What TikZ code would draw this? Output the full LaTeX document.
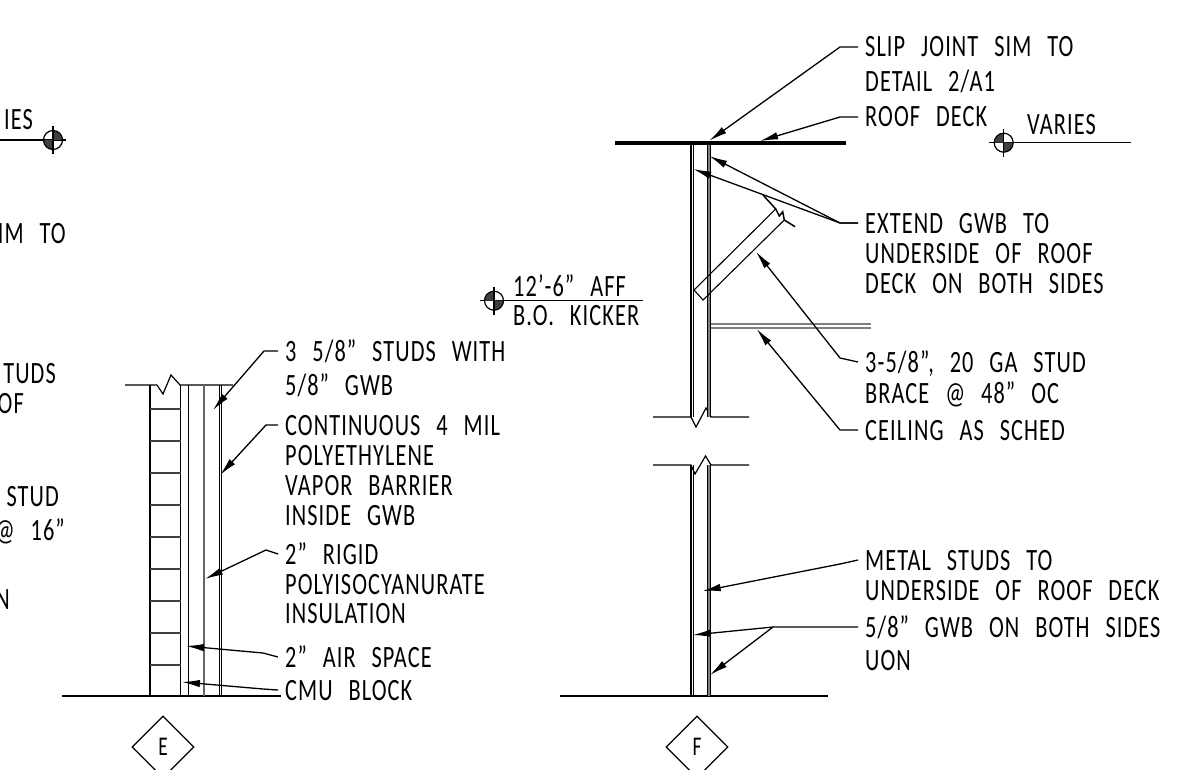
\documentclass[tikz,border=0pt]{standalone}
\usepackage{fontspec}
\setmainfont[FakeStretch=0.72,LetterSpace=3.5,WordSpace=2.6]{Carlito}
\usetikzlibrary{arrows.meta}
\usetikzlibrary{shapes.geometric}
\tikzset{
  lbl/.style={anchor=base west,inner ysep=0pt,inner xsep=7pt,text height=20pt,text depth=0pt,font=\fontsize{31}{31}\selectfont},
  leader/.style={line width=1.3pt,-{Latex[length=18pt,width=7.5pt]}},
  tag/.style={draw,diamond,line width=1.2pt,minimum width=62pt,minimum height=62pt,inner sep=0pt,font=\fontsize{27}{27}\selectfont},
  pics/levelmark/.style={code={
    \fill[black!75] (0,0) -- (#1:9.5) arc[start angle=#1,delta angle=90,radius=9.5] -- cycle;
    \fill[black!75] (0,0) -- (#1+180:9.5) arc[start angle=#1+180,delta angle=90,radius=9.5] -- cycle;
    \draw[line width=1.2pt,fill=none] (0,0) circle (9.5);
    \draw[line width=1.2pt] (0,-14) -- (0,14);
  }}
}
\begin{document}
\begin{tikzpicture}[x=1pt,y=-1pt]
  \useasboundingbox (0,0) rectangle (1177,770);
  \clip (0,0) rectangle (1177,770);

  % detail E
  \draw[line width=1.2pt] (62,696) -- (281,696);
  \draw[line width=1.2pt] (125,385) -- (157,385) -- (163,394) -- (171,375) -- (180,385) -- (233,385);
  \draw[line width=1.6pt] (150,385) -- (150,696);
  \draw[line width=1.6pt] (180.5,385) -- (180.5,696);
  \draw[line width=1pt] (188,385) -- (188,696);
  \draw[line width=1.8pt,black!60] (204,385) -- (204,696);
  \draw[line width=1.2pt] (219.2,385) -- (219.2,696);
  \draw[line width=1.2pt] (221.8,385) -- (221.8,696);
  \foreach \ycourse in {409,441,...,665}
    \draw[line width=1.8pt,black!75] (150,\ycourse) -- (181,\ycourse);

  \node[lbl] (studsa) at (278,361) {3 5/8” STUDS WITH};
  \node[lbl] (studsb) at (278,395) {5/8” GWB};
  \node[lbl] (polya) at (278,435) {CONTINUOUS 4 MIL};
  \node[lbl] (polyb) at (278,465) {POLYETHYLENE};
  \node[lbl] (polyc) at (278,495) {VAPOR BARRIER};
  \node[lbl] (polyd) at (278,525) {INSIDE GWB};
  \node[lbl] (rigida) at (278,564) {2” RIGID};
  \node[lbl] (rigidb) at (278,594) {POLYISOCYANURATE};
  \node[lbl] (rigidc) at (278,623) {INSULATION};
  \node[lbl] (air) at (278,667) {2” AIR SPACE};
  \node[lbl] (cmu) at (278,700) {CMU BLOCK};

  \coordinate (studstip) at (213,410);
  \coordinate (polytip) at (220,475);
  \coordinate (rigidtip) at (205,579);
  \coordinate (airtip) at (186,646);
  \coordinate (cmutip) at (182,682);
  \draw[leader] (studsa.west) -- ++(-14,0) -- (studstip);
  \draw[leader] (polya.west) -- ++(-12,0) -- (polytip);
  \draw[leader] (rigida.west) -- ++(-12,-4) -- (rigidtip);
  \draw[leader] (air.west) -- ++(-15,-4) -- (airtip);
  \draw[leader] (cmu.west) -- ++(-15,-1) -- (cmutip);

  \node[tag] (tage) at (163,747) {E};

  % cut off at the left edge
  \draw[line width=1.3pt] (0,140) -- (66,140);
  \pic at (53,140) {levelmark=90};
  \node[lbl,anchor=base east,inner xsep=0pt] (varl) at (33,130) {IES};
  \node[lbl,anchor=base east,inner xsep=0pt] (siml) at (66,243) {SIM TO};
  \node[lbl,anchor=base east,inner xsep=0pt] (tuds) at (56,383) {TUDS};
  \node[lbl,anchor=base east,inner xsep=0pt] (ofl) at (24,413) {OF};
  \node[lbl,anchor=base east,inner xsep=0pt] (stud) at (59,506) {STUD};
  \node[lbl,anchor=base east,inner xsep=0pt] (sixt) at (65,540) {@ 16”};
  \node[lbl,anchor=base east,inner xsep=0pt] (nl) at (10,609) {N};

  % detail F
  \draw[line width=1.2pt] (560,696) -- (828,696);
  \draw[line width=1.2pt] (653,417) -- (691,417) -- (696,427) -- (706,408) -- (711,417) -- (749,417);
  \draw[line width=1.2pt] (653,465) -- (691,465) -- (695,474) -- (705.5,456) -- (711,465) -- (749,465);
  \foreach \ytop/\ybot in {143/417,465/696} {
    \draw[line width=1.3pt] (691,\ytop) -- (691,\ybot);
    \draw[line width=1.3pt] (693.6,\ytop) -- (693.6,\ybot);
    \draw[line width=3.6pt] (709,\ytop) -- (709,\ybot);
    \draw[line width=1.8pt,black!50] (709,\ytop) -- (709,\ybot);
  }
  \draw[line width=4pt] (615,142.7) -- (846,142.7);
  \draw[line width=1.1pt] (775.7,209) -- (694,290) -- (703,300) -- (784.3,220);
  \draw[line width=1.5pt] (763,195) -- (775.7,209) -- (779.3,216) -- (782.7,211.7) -- (784.3,220) -- (795,226.7);
  \draw[line width=1.5pt,black!50] (711,324) -- (870.5,324);
  \draw[line width=1.5pt,black!50] (711,328) -- (870.5,328);

  \node[lbl] (slipa) at (858,57) {SLIP JOINT SIM TO};
  \node[lbl] (slipb) at (858,92) {DETAIL 2/A1};
  \node[lbl] (deck) at (858,127) {ROOF DECK};
  \node[lbl] (gwba) at (858,233) {EXTEND GWB TO};
  \node[lbl] (gwbb) at (858,263) {UNDERSIDE OF ROOF};
  \node[lbl] (gwbc) at (858,293) {DECK ON BOTH SIDES};
  \node[lbl] (bracea) at (858,372) {3-5/8”, 20 GA STUD};
  \node[lbl] (braceb) at (858,403) {BRACE @ 48” OC};
  \node[lbl] (ceil) at (858,440) {CEILING AS SCHED};
  \node[lbl] (metala) at (858,570) {METAL STUDS TO};
  \node[lbl] (metalb) at (858,600) {UNDERSIDE OF ROOF DECK};
  \node[lbl] (bothsa) at (858,637) {5/8” GWB ON BOTH SIDES};
  \node[lbl] (bothsb) at (858,670) {UON};

  \coordinate (sliptip) at (709.3,140.7);
  \coordinate (decktip) at (760,141);
  \coordinate (gwbtipr) at (709.3,156);
  \coordinate (gwbtipl) at (693.3,169);
  \coordinate (bracetip) at (756,251.7);
  \coordinate (ceiltip) at (756.7,329);
  \coordinate (metaltip) at (702.7,591);
  \coordinate (bothtipl) at (692.7,635);
  \coordinate (bothtipr) at (710,675);
  \coordinate (bothelbow) at (773,627);
  \draw[leader] (slipa.west) -- ++(-18,0) -- (sliptip);
  \draw[leader] (deck.west) -- ++(-18,0) -- (decktip);
  \draw[leader] (gwba.west) -- ++(-18,0) -- (gwbtipr);
  \draw[leader] (gwba.west) -- ++(-18,0) -- (gwbtipl);
  \draw[leader] (bracea.west) -- ++(-18,-4) -- (bracetip);
  \draw[leader] (ceil.west) -- ++(-18,0) -- (ceiltip);
  \draw[leader] (metala.west) -- ++(-18,4) -- (metaltip);
  \draw[leader] (bothsa.west) -- (bothelbow) -- (bothtipl);
  \draw[leader] (bothelbow) -- (bothtipr);

  \node[tag] (tagf) at (697,747) {F};

  \draw[line width=1.3pt] (480,300.7) -- (643,300.7);
  \pic at (494,300.7) {levelmark=0};
  \node[lbl] (afftop) at (506,296) {12’-6” AFF};
  \node[lbl] (affbot) at (506,325) {B.O. KICKER};

  \draw[line width=1.3pt] (989,142.7) -- (1131,142.7);
  \pic at (1003.7,142.7) {levelmark=0};
  \node[lbl] (varr) at (1020,135) {VARIES};
\end{tikzpicture}
\end{document}
